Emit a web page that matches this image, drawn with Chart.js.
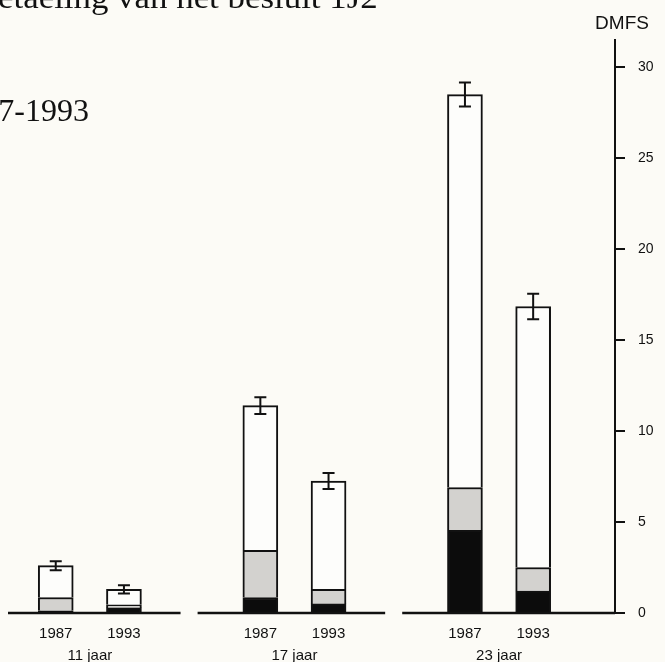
<!DOCTYPE html>
<html>
<head>
<meta charset="utf-8">
<script src="https://cdn.jsdelivr.net/npm/chart.js@4"></script>
<style>
  html, body { margin: 0; padding: 0; background: #fcfbf6; }
  #wrap { width: 665px; height: 662px; position: relative; overflow: hidden; }
</style>
</head>
<body>
<div id="wrap"><canvas id="c"></canvas></div>
<script>
// Age groups and survey years
const groups = ['11 jaar', '17 jaar', '23 jaar'];
const yearLabels = ['1987', '1993', '1987', '1993', '1987', '1993'];
// Position of each bar on the x scale (two bars per age group, one empty slot between groups)
const xPos = [0, 1, 3, 4, 6, 7];

// DMFS components per bar
const darkPart = [0.12, 0.28, 0.85, 0.50, 4.55, 1.20];
const greyPart = [0.73, 0.17, 2.60, 0.80, 2.35, 1.30];
const totalDMFS = [2.60, 1.30, 11.40, 7.25, 28.50, 16.85];
const errDMFS = [0.25, 0.23, 0.46, 0.44, 0.66, 0.70];
const openPart = totalDMFS.map((t, i) => +(t - darkPart[i] - greyPart[i]).toFixed(2));

const yTicks = [0, 5, 10, 15, 20, 25, 30];

const INK = '#111111';
const SANS = '"Liberation Sans", Arial, sans-serif';
const SERIF = '"Liberation Serif", "Times New Roman", serif';

const toPoints = arr => arr.map((v, i) => ({ x: xPos[i], y: v }));
const segBorder = { top: 2, left: 2, right: 2, bottom: 0 };

const decorations = {
  id: 'decorations',
  afterDatasetsDraw(chart) {
    const { ctx, scales: { x, y } } = chart;
    ctx.save();

    // baseline under each age group
    ctx.strokeStyle = INK;
    ctx.lineWidth = 2.5;
    groups.forEach((g, gi) => {
      const from = Math.max(gi * 3 - 0.92, x.min);
      const to = gi === groups.length - 1 ? x.max : gi * 3 + 1.83;
      const py = y.getPixelForValue(0);
      ctx.beginPath();
      ctx.moveTo(x.getPixelForValue(from), py);
      ctx.lineTo(x.getPixelForValue(to), py);
      ctx.stroke();
    });

    // error bars on top of each stack
    ctx.lineWidth = 2;
    totalDMFS.forEach((t, i) => {
      const cx = x.getPixelForValue(xPos[i]);
      const yt = y.getPixelForValue(t + errDMFS[i]);
      const yb = y.getPixelForValue(t - errDMFS[i]);
      ctx.beginPath();
      ctx.moveTo(cx, yt); ctx.lineTo(cx, yb);
      ctx.moveTo(cx - 6, yt); ctx.lineTo(cx + 6, yt);
      ctx.moveTo(cx - 6, yb); ctx.lineTo(cx + 6, yb);
      ctx.stroke();
    });

    // age group labels
    ctx.fillStyle = INK;
    ctx.font = '15px ' + SANS;
    ctx.textAlign = 'center';
    ctx.textBaseline = 'alphabetic';
    groups.forEach((g, gi) => {
      ctx.fillText(g, x.getPixelForValue(gi * 3 + 0.5), 660);
    });

    // axis unit
    ctx.font = '19px ' + SANS;
    ctx.fillText('DMFS', 622, 29);

    // heading lines
    ctx.font = '32px ' + SERIF;
    ctx.textAlign = 'left';
    ctx.save();
    ctx.translate(-2, 8);
    ctx.scale(1.09, 1);
    ctx.fillText('etaeling van het besluit 1J2', 0, 0);
    ctx.restore();
    ctx.textAlign = 'right';
    ctx.fillText('1987-1993', 89, 121);

    ctx.restore();
  }
};

new Chart(document.getElementById('c'), {
  type: 'bar',
  data: {
    datasets: [
      { label: 'dark', data: toPoints(darkPart), backgroundColor: '#0c0c0c', borderColor: INK, borderWidth: segBorder, borderSkipped: false },
      { label: 'grey', data: toPoints(greyPart), backgroundColor: '#d3d2cf', borderColor: INK, borderWidth: segBorder, borderSkipped: false },
      { label: 'open', data: toPoints(openPart), backgroundColor: '#fdfdfb', borderColor: INK, borderWidth: segBorder, borderSkipped: false }
    ]
  },
  options: {
    responsive: true,
    maintainAspectRatio: false,
    animation: false,
    barThickness: 35,
    layout: { padding: { top: 40, left: 8, right: 0, bottom: 0 } },
    plugins: { legend: { display: false }, tooltip: { enabled: false } },
    scales: {
      x: {
        type: 'linear',
        stacked: true,
        offset: false,
        min: -0.7,
        max: 8.2,
        afterBuildTicks: s => { s.ticks = xPos.map(v => ({ value: v })); },
        afterFit: s => { s.height = 49; },
        ticks: {
          autoSkip: false,
          maxRotation: 0,
          padding: 4,
          color: INK,
          font: { family: SANS, size: 15 },
          callback: (v, i) => yearLabels[i]
        },
        grid: { display: false },
        border: { display: false }
      },
      y: {
        type: 'linear',
        position: 'right',
        stacked: true,
        min: 0,
        max: 31.5,
        afterBuildTicks: s => { s.ticks = yTicks.map(v => ({ value: v })); },
        afterFit: s => { s.width = 50; },
        ticks: {
          padding: 13,
          color: INK,
          font: { family: SANS, size: 14 }
        },
        grid: { drawOnChartArea: false, drawTicks: true, tickLength: 10, color: INK, lineWidth: 2 },
        border: { display: true, color: INK, width: 2 }
      }
    }
  },
  plugins: [decorations]
});
</script>
</body>
</html>
